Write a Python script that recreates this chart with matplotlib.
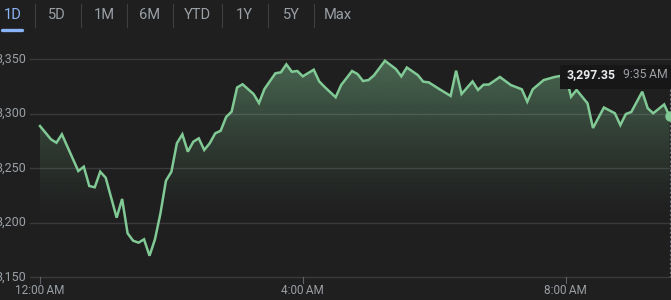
import matplotlib
matplotlib.use('Agg')
import matplotlib.pyplot as plt
import numpy as np
from matplotlib.patches import Rectangle
from matplotlib.lines import Line2D

# ---------------- data ----------------
minutes = [0, 10, 15, 20, 35, 40, 45, 50, 55, 60, 70, 75, 80, 85, 90, 95, 100, 105,
           110, 115, 120, 125, 130, 135, 140, 145, 150, 155, 160, 165, 170, 175, 180,
           185, 195, 200, 205, 215, 220, 225, 230, 235, 240, 250, 255, 260, 270, 275,
           285, 290, 295, 300, 305, 315, 325, 330, 335, 345, 350, 355, 365, 375, 380,
           385, 395, 400, 405, 410, 420, 430, 440, 445, 450, 460, 470, 480, 485, 490,
           500, 505, 515, 525, 530, 535, 540, 550, 555, 560, 570, 575]
prices = [3288.5, 3276.3, 3273.2, 3280.9, 3247.2, 3251.2, 3233.5, 3232.3, 3246.6, 3241.1,
          3204.4, 3221.6, 3190.1, 3183.3, 3181.5, 3184.6, 3169.5, 3184.6, 3208.4, 3238.3,
          3246.6, 3272.7, 3280.9, 3265.0, 3274.1, 3277.2, 3266.5, 3272.7, 3281.8, 3284.2,
          3296.8, 3301.7, 3323.9, 3326.8, 3317.9, 3309.6, 3322.5, 3336.9, 3337.8, 3345.1,
          3338.3, 3339.0, 3334.1, 3340.2, 3329.4, 3324.3, 3314.9, 3326.1, 3339.0, 3336.2,
          3329.8, 3330.7, 3335.0, 3348.4, 3340.8, 3334.1, 3342.2, 3335.3, 3329.2, 3328.6,
          3322.2, 3316.1, 3339.3, 3317.9, 3329.4, 3321.6, 3326.4, 3326.6, 3333.5, 3326.1,
          3322.2, 3310.8, 3322.2, 3330.7, 3333.5, 3335.3, 3315.4, 3321.6, 3309.4, 3286.7,
          3305.5, 3300.2, 3289.4, 3299.5, 3301.4, 3320.0, 3304.8, 3300.2, 3308.3, 3297.35]
y_ticks = [3150, 3200, 3250, 3300, 3350]
y_labels = ['3,150', '3,200', '3,250', '3,300', '3,350']
x_ticks = [0, 240, 480]
x_labels = ['12:00\u2009AM', '4:00\u2009AM', '8:00\u2009AM']
tabs = ['1D', '5D', '1M', '6M', 'YTD', '1Y', '5Y', 'Max']
tooltip_price = '3,297.35'
tooltip_time = '9:35\u2009AM'

# ---------------- layout helpers ----------------
W, H = 671, 300
BG = '#1f1f1f'
GREEN = '#81c995'
GRID = '#3a3a3a'
LABEL = '#9aa0a6'
FONT = ['Roboto', 'DejaVu Sans']

fig = plt.figure(figsize=(W / 100, H / 100), dpi=100)
fig.patch.set_facecolor(BG)
ax = fig.add_axes([0, 0, 1, 1])
ax.set_facecolor(BG)
ax.axis('off')

X0 = 40.0
PX_PER_MIN = 65.7 / 60.0
PX_PER_UNIT = 1.09


def px2t(px):
    return (px - X0) / PX_PER_MIN


def py2v(py):
    return 3150 + (277 - py) / PX_PER_UNIT


ax.set_xlim(px2t(0), px2t(W))
ax.set_ylim(py2v(H), py2v(0))

# gridlines + y labels
for v, lab in zip(y_ticks, y_labels):
    ax.plot([px2t(30), px2t(W)], [v, v], color=GRID, lw=1.0, zorder=1)
    ax.text(px2t(26), v, lab, ha='right', va='center', color=LABEL,
            fontsize=9, family=FONT, zorder=5)

# x ticks + labels
for t, lab in zip(x_ticks, x_labels):
    ax.plot([t, t], [py2v(277), py2v(283)], color='#5f6368', lw=0.8, zorder=2)
    ax.text(t, py2v(291), lab, ha='center', va='center', color=LABEL,
            fontsize=8.5, family=FONT, zorder=5)

# gradient fill under the line
t_arr = np.array(minutes, dtype=float)
p_arr = np.array(prices, dtype=float)
bottom = py2v(H)
poly = ax.fill_between(t_arr, p_arr, bottom, color='none', lw=0)
top_v = py2v(55)
bot_v = py2v(220)
ny = 200
yy = np.linspace(0, 1, ny)[:, None]  # 0 at top, 1 at bottom
alpha = np.clip(1 - yy, 0, 1) ** 1.3 * 0.45
rgba = np.zeros((ny, 1, 4))
rgba[..., 0] = 0x81 / 255
rgba[..., 1] = 0xc9 / 255
rgba[..., 2] = 0x95 / 255
rgba[..., 3] = alpha
im = ax.imshow(rgba, extent=[t_arr[0], t_arr[-1], bot_v, top_v], aspect='auto',
               origin='upper', zorder=2, interpolation='bilinear')
im.set_clip_path(poly.get_paths()[0], transform=ax.transData)

# price line
ax.plot(t_arr, p_arr, color=GREEN, lw=1.8, zorder=3, solid_joinstyle='miter')

# dashed vertical cursor line and end dot
ax.plot([px2t(670), px2t(670)], [py2v(89), py2v(277)], color='#6f7378', lw=0.8,
        ls=(0, (2, 2)), zorder=3)
ax.plot([t_arr[-1]], [p_arr[-1]], 'o', ms=6.5, color=GREEN, mec=GREEN, zorder=6)

# tooltip box
fig.add_artist(Rectangle((560 / W, 1 - 89 / H), (W - 560) / W, 24 / H,
                         transform=fig.transFigure, facecolor='#171717',
                         edgecolor='none', zorder=7))
fig.text(567 / W, 1 - 75 / H, tooltip_price, ha='left', va='center', color='#e8eaed',
         fontsize=8.8, fontweight='bold', family=FONT, zorder=8)
fig.text(668 / W, 1 - 75 / H, tooltip_time, ha='right', va='center', color=LABEL,
         fontsize=8.8, family=FONT, zorder=8)

# top tab bar
tab_x = [13, 57, 104, 150, 197, 244, 291, 338]
sep_x = [35, 81, 127, 173, 222, 268, 314]
for x, lab in zip(tab_x, tabs):
    fig.text(x / W, 1 - 15 / H, lab, ha='center', va='center',
             color='#8ab4f8' if lab == '1D' else LABEL, fontsize=10.5, family=FONT)
for x in sep_x:
    fig.add_artist(Line2D([x / W, x / W], [1 - 4 / H, 1 - 27 / H], color='#3c4043',
                          lw=0.8, transform=fig.transFigure))
fig.add_artist(Line2D([2 / W, 22 / W], [1 - 30 / H, 1 - 30 / H], color='#8ab4f8',
                      lw=2.4, solid_capstyle='round', transform=fig.transFigure))

fig.savefig('out.png', dpi=100, facecolor=BG)
